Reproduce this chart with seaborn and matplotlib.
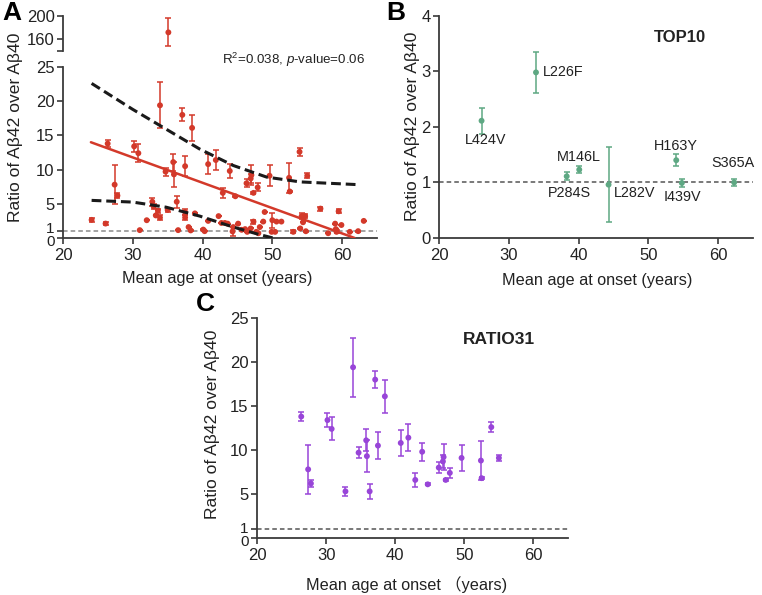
import numpy as np
import pandas as pd
import matplotlib
matplotlib.use("Agg")
import matplotlib.pyplot as plt
import matplotlib.transforms as mtransforms
import seaborn as sns

# ---------------- data ----------------
# Panel C (RATIO31)
c_age = [26.4, 27.4, 27.8, 30.2, 30.8, 32.8, 33.9, 34.7, 35.8, 35.9, 36.3, 37.1, 37.5, 38.5,
         40.8, 41.9, 42.9, 43.9, 44.7, 46.3, 46.9, 47.0, 47.3, 47.9, 49.6, 52.4, 52.5, 53.9, 55.0]
c_ratio = [13.8, 7.8, 6.2, 13.4, 12.4, 5.3, 19.4, 9.7, 11.1, 9.3, 5.3, 18.0, 10.5, 16.1,
           10.8, 11.4, 6.6, 9.8, 6.1, 8.0, 8.7, 9.2, 6.6, 7.4, 9.1, 8.8, 6.8, 12.6, 9.1]
c_err = [0.55, 2.8, 0.35, 0.8, 1.3, 0.55, 3.35, 0.6, 1.25, 1.85, 0.85, 0.95, 1.5, 1.9,
         1.5, 1.5, 0.75, 1.0, 0.1, 0.6, 0.7, 1.5, 0.15, 0.6, 1.5, 2.2, 0.1, 0.6, 0.35]

# Panel B (TOP10)
b_label = ["L424V", "L226F", "P284S", "M146L", "L282V", "H163Y", "I439V", "S365A"]
b_age = [26.1, 33.9, 38.3, 40.1, 44.3, 54.0, 54.8, 62.3]
b_ratio = [2.11, 2.98, 1.11, 1.23, 0.96, 1.40, 0.99, 1.00]
b_err = [0.23, 0.37, 0.07, 0.06, 0.67, 0.11, 0.08, 0.07]

# Panel A: remaining mutations (besides those of B and C)
a_age = [24.1, 31.0, 32.0, 33.0, 33.3, 33.6, 35.1, 35.0, 36.5, 37.5, 37.5, 38.0, 38.9, 40.3,
         40.8, 42.3, 42.7, 43.2, 43.6, 44.4, 45.1, 45.6, 46.1, 46.4, 46.9, 47.3, 47.7, 48.0,
         48.2, 48.7, 48.9, 50.0, 49.9, 50.4, 50.6, 51.3, 53.0, 54.2, 54.4, 54.7, 56.9, 58.0,
         59.0, 59.1, 59.2, 59.5, 59.9, 61.1, 63.1]
a_ratio = [2.65, 1.15, 2.6, 4.6, 3.3, 4.0, 171.0, 4.1, 1.15, 3.8, 3.0, 1.6, 3.6, 1.0,
           2.5, 3.2, 2.2, 2.2, 2.1, 1.6, 2.1, 1.2, 1.3, 0.9, 1.4, 2.4, 0.9, 0.7,
           1.6, 2.4, 3.8, 2.6, 0.9, 0.9, 2.4, 2.4, 0.9, 3.2, 2.3, 3.2, 4.3, 0.7,
           2.1, 1.3, 0.9, 3.9, 1.9, 0.9, 2.5]
a_err = [0.25, 0, 0, 0.4, 0, 0.3, 25.0, 0.3, 0, 0.4, 0.3, 0, 0, 0,
         0, 0, 0, 0, 0, 0, 0, 0, 0, 0, 0, 0.3, 0, 0,
         0, 0, 0, 1.1, 0, 0, 0, 0, 0.2, 0.4, 0, 0.3, 0.3, 0,
         0, 0, 0.2, 0.3, 0, 0, 0]

# Panel A regression line and 95% band
fit_age = [24.0, 61.8]
fit_ratio = [14.0, 0.0]
upper_age = [24.1, 30.0, 34.8, 39.6, 44.4, 49.2, 54.0, 62.3]
upper_ratio = [22.6, 18.8, 15.9, 13.0, 10.6, 8.9, 8.2, 7.8]
lower_age = [24.1, 30.0, 34.8, 39.6, 44.4, 47.8, 50.1]
lower_ratio = [5.5, 5.25, 4.5, 3.2, 1.6, 0.6, 0.0]

stat_text = r"R$^2$=0.038, $\it{p}$-value=0.06"

# ---------------- style ----------------
sns.set_style("ticks")
plt.rcParams["font.family"] = ["Liberation Sans", "DejaVu Sans"]
plt.rcParams["mathtext.fontset"] = "custom"
plt.rcParams["mathtext.rm"] = "Liberation Sans"
plt.rcParams["mathtext.it"] = "Liberation Sans:italic"
plt.rcParams["axes.edgecolor"] = "#3a3a3a"
plt.rcParams["axes.linewidth"] = 1.3
plt.rcParams["xtick.color"] = "#3a3a3a"
plt.rcParams["ytick.color"] = "#3a3a3a"
plt.rcParams["xtick.labelcolor"] = "#222222"
plt.rcParams["ytick.labelcolor"] = "#222222"
plt.rcParams["xtick.major.size"] = 4
plt.rcParams["ytick.major.size"] = 4
plt.rcParams["xtick.major.width"] = 1.2
plt.rcParams["ytick.major.width"] = 1.2
plt.rcParams["xtick.major.pad"] = 3
plt.rcParams["ytick.major.pad"] = 2

RED = "#d3392a"
GREEN = "#5ea883"
PURPLE = "#9845d8"
TICK_FS = 12
XLAB_FS = 11.7
YLAB_FS = 12.6

W, H = 762, 595
fig = plt.figure(figsize=(W / 100, H / 100), dpi=100)


def rect(x0, y_top, x1, y_bot):
    return [x0 / W, 1 - y_bot / H, (x1 - x0) / W, (y_bot - y_top) / H]


A_all_age = a_age + b_age + c_age
A_all_ratio = a_ratio + b_ratio + c_ratio
A_all_err = a_err + b_err + c_err
dfA = pd.DataFrame({"age": A_all_age, "ratio": A_all_ratio, "err": A_all_err})


def draw_points(ax, df, color, cap=2.3):
    ax.errorbar(df["age"], df["ratio"], yerr=df["err"], fmt="none", ecolor=color,
                elinewidth=1.1, capsize=cap, capthick=1.1, zorder=3)
    sns.scatterplot(data=df, x="age", y="ratio", ax=ax, color=color, s=18,
                    edgecolor="none", zorder=4, legend=False)


def separate_zero_one(ax, up=3.5, down=3.0):
    # nudge the crowded "1" and "0" tick labels apart
    fig.canvas.draw()
    for lab in ax.get_yticklabels():
        t = lab.get_text()
        if t == "1":
            lab.set_fontsize(TICK_FS - 1)
            lab.set_transform(lab.get_transform() +
                              mtransforms.ScaledTranslation(0, up / 100, fig.dpi_scale_trans))
        elif t == "0":
            lab.set_fontsize(TICK_FS - 1)
            lab.set_transform(lab.get_transform() +
                              mtransforms.ScaledTranslation(0, -down / 100, fig.dpi_scale_trans))


# ---------------- Panel A ----------------
axA = fig.add_axes(rect(63, 67, 377, 238))
axAt = fig.add_axes(rect(63, 16, 377, 51), sharex=axA)

for ax in (axA, axAt):
    draw_points(ax, dfA, RED)
    ax.set_xlim(20, 65)
    ax.set_xlabel("")
    ax.set_ylabel("")
    ax.tick_params(labelsize=TICK_FS)

axA.axhline(1, color="#8a8a8a", lw=1.1, ls=(0, (3, 2)), zorder=1)
sns.lineplot(x=fit_age, y=fit_ratio, ax=axA, color=RED, lw=1.8, zorder=5)
sns.lineplot(x=upper_age, y=upper_ratio, ax=axA, color="#1a1a1a", lw=2.2,
             linestyle=(0, (3.2, 1.6)), zorder=5)
sns.lineplot(x=lower_age, y=lower_ratio, ax=axA, color="#1a1a1a", lw=2.2,
             linestyle=(0, (3.2, 1.6)), zorder=5)
axA.set_ylim(0, 25)
axA.set_yticks([0, 1, 5, 10, 15, 20, 25])
axA.set_xticks([20, 30, 40, 50, 60])
sns.despine(ax=axA)

axAt.set_ylim(138, 200)
axAt.set_yticks([138, 160, 200])
axAt.set_yticklabels(["", "160", "200"])
axAt.spines["bottom"].set_visible(False)
axAt.spines["top"].set_visible(False)
axAt.spines["right"].set_visible(False)
axAt.tick_params(axis="x", bottom=False, labelbottom=False)
axAt.set_xlabel("")

axA.text(0.963, 1.04, stat_text, transform=axA.transAxes, ha="right", va="center",
         fontsize=9.6, color="#222222")

# ---------------- Panel B ----------------
dfB = pd.DataFrame({"age": b_age, "ratio": b_ratio, "err": b_err, "label": b_label})
axB = fig.add_axes(rect(439, 15.7, 753, 238))
axB.axhline(1, color="#555555", lw=1.1, ls=(0, (3, 2)), zorder=1)
draw_points(axB, dfB, GREEN)
axB.set_xlim(20, 65)
axB.set_ylim(0, 4)
axB.set_yticks([0, 1, 2, 3, 4])
axB.set_xticks([20, 30, 40, 50, 60])
axB.set_xlabel("")
axB.set_ylabel("")
axB.tick_params(labelsize=TICK_FS)
sns.despine(ax=axB)

# label placement: (dx, dy, ha) offsets in data units
b_place = {
    "L424V": (0.6, -0.35, "center"),
    "L226F": (1.0, 0.0, "left"),
    "P284S": (0.4, -0.30, "center"),
    "M146L": (0.0, 0.22, "center"),
    "L282V": (0.8, -0.15, "left"),
    "H163Y": (0.0, 0.26, "center"),
    "I439V": (0.1, -0.25, "center"),
    "S365A": (-0.1, 0.35, "center"),
}
for lab, x, y in zip(b_label, b_age, b_ratio):
    dx, dy, ha = b_place[lab]
    axB.text(x + dx, y + dy, lab, ha=ha, va="center", fontsize=10.4, color="#222222")
axB.text(54.6, 3.6, "TOP10", ha="center", va="center", fontsize=12, fontweight="bold",
         color="#222222")

# ---------------- Panel C ----------------
dfC = pd.DataFrame({"age": c_age, "ratio": c_ratio, "err": c_err})
axC = fig.add_axes(rect(257, 318, 568, 538))
axC.axhline(1, color="#555555", lw=1.1, ls=(0, (3, 2)), zorder=1)
draw_points(axC, dfC, PURPLE)
axC.set_xlim(20, 65)
axC.set_ylim(0, 25)
axC.set_yticks([0, 1, 5, 10, 15, 20, 25])
axC.set_xticks([20, 30, 40, 50, 60])
axC.set_xlabel("")
axC.set_ylabel("")
axC.tick_params(labelsize=TICK_FS)
sns.despine(ax=axC)
axC.text(55.0, 22.5, "RATIO31", ha="center", va="center", fontsize=12.5, fontweight="bold",
         color="#222222")

separate_zero_one(axA)
separate_zero_one(axC, up=2.0, down=2.0)

# ---------------- labels ----------------
ylab = "Ratio of Aβ42 over Aβ40"


def ftext(x, y, s, **kw):
    fig.text(x / W, 1 - y / H, s, **kw)


ftext(16, 127, ylab, rotation=90, ha="center", va="center", fontsize=YLAB_FS, color="#222222")
ftext(413, 126, ylab, rotation=90, ha="center", va="center", fontsize=YLAB_FS, color="#222222")
ftext(212, 424, ylab, rotation=90, ha="center", va="center", fontsize=YLAB_FS, color="#222222")

ftext(217, 278, "Mean age at onset (years)", ha="center", va="center", fontsize=XLAB_FS,
      color="#222222")
ftext(597, 280, "Mean age at onset (years)", ha="center", va="center", fontsize=XLAB_FS,
      color="#222222")
ftext(407, 585, "Mean age at onset （years)", ha="center", va="center", fontsize=XLAB_FS,
      color="#222222", family=["Liberation Sans", "Noto Sans CJK SC", "DejaVu Sans"])

ftext(12, 13, "A", ha="center", va="center", fontsize=19, fontweight="bold", color="black")
ftext(396, 13, "B", ha="center", va="center", fontsize=19, fontweight="bold", color="black")
ftext(205, 304, "C", ha="center", va="center", fontsize=19, fontweight="bold", color="black")

fig.savefig("out.png", dpi=100)
